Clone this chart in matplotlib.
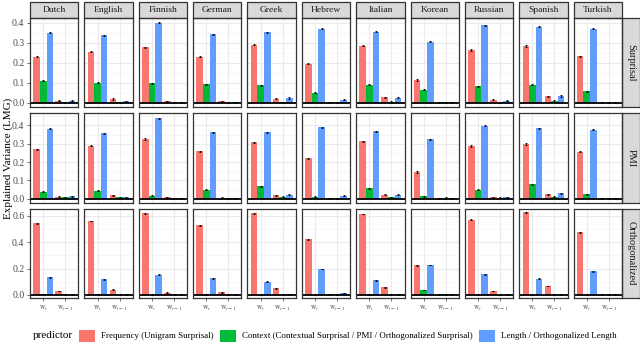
import numpy as np
import matplotlib as mpl
mpl.use('Agg')
import matplotlib.pyplot as plt
from matplotlib.patches import Patch, Rectangle

plt.rc('font', family='Liberation Serif', size=7)
plt.rc('mathtext', fontset='stix')

languages = ['Dutch', 'English', 'Finnish', 'German', 'Greek', 'Hebrew',
             'Italian', 'Korean', 'Russian', 'Spanish', 'Turkish']
rows = ['Surprisal', 'PMI', 'Orthogonalized']
positions = [r'$\mathrm{w}_t$', r'$\mathrm{w}_{t-1}$']
predictors = ['Frequency (Unigram Surprisal)',
              'Context (Contextual Surprisal / PMI / Orthogonalized Surprisal)',
              'Length / Orthogonalized Length']
colors = ['#F8766D', '#00BA38', '#619CFF']

# (w_t, w_{t-1}) per language
surp_freq = [(0.230, 0.012), (0.255, 0.020), (0.277, 0.008), (0.230, 0.008), (0.290, 0.022), (0.195, 0.003),
             (0.286, 0.028), (0.114, 0.002), (0.264, 0.017), (0.284, 0.033), (0.233, 0.002)]
surp_ctx = [(0.110, 0.002), (0.100, 0.003), (0.098, 0.002), (0.092, 0.002), (0.088, 0.003), (0.052, 0.002),
            (0.091, 0.005), (0.066, 0.004), (0.083, 0.002), (0.091, 0.010), (0.058, 0.001)]
surp_len = [(0.350, 0.012), (0.337, 0.008), (0.400, 0.002), (0.342, 0.003), (0.352, 0.025), (0.370, 0.017),
            (0.355, 0.026), (0.306, 0.002), (0.388, 0.012), (0.380, 0.035), (0.370, 0.002)]

pmi_freq = [(0.270, 0.011), (0.290, 0.018), (0.326, 0.008), (0.260, 0.006), (0.308, 0.020), (0.220, 0.002),
            (0.313, 0.022), (0.146, 0.002), (0.288, 0.007), (0.299, 0.025), (0.256, 0.002)]
pmi_ctx = [(0.038, 0.007), (0.045, 0.007), (0.016, 0.002), (0.049, 0.002), (0.067, 0.011), (0.011, 0.001),
           (0.058, 0.009), (0.014, 0.004), (0.050, 0.006), (0.079, 0.011), (0.025, 0.001)]
pmi_len = [(0.382, 0.013), (0.358, 0.009), (0.440, 0.002), (0.362, 0.003), (0.362, 0.023), (0.390, 0.016),
           (0.369, 0.023), (0.324, 0.002), (0.398, 0.007), (0.384, 0.031), (0.377, 0.002)]

orth_freq = [(0.544, 0.030), (0.560, 0.040), (0.618, 0.018), (0.529, 0.020), (0.618, 0.051), (0.423, 0.004),
             (0.613, 0.058), (0.225, 0.002), (0.570, 0.030), (0.625, 0.068), (0.476, 0.002)]
orth_ctx = [(0.007, 0.002), (0.008, 0.001), (0.002, 0.001), (0.005, 0.001), (0.002, 0.001), (0.002, 0.001),
            (0.005, 0.002), (0.038, 0.004), (0.002, 0.002), (0.002, 0.002), (0.003, 0.001)]
orth_len = [(0.134, 0.002), (0.119, 0.001), (0.154, 0.001), (0.127, 0.001), (0.101, 0.004), (0.197, 0.015),
            (0.111, 0.003), (0.228, 0.002), (0.157, 0.002), (0.124, 0.006), (0.180, 0.002)]

err = 0.003  # roughly constant small error bars

data = [[surp_freq, surp_ctx, surp_len],
        [pmi_freq, pmi_ctx, pmi_len],
        [orth_freq, orth_ctx, orth_len]]
ylims = [(-0.02, 0.425), (-0.021, 0.466), (-0.025, 0.651)]
yticks = [[0, 0.1, 0.2, 0.3, 0.4], [0, 0.1, 0.2, 0.3, 0.4], [0, 0.2, 0.4, 0.6]]

fig = plt.figure(figsize=(6.4, 3.44), dpi=100)
gs = fig.add_gridspec(3, 11, left=30/640, right=622/640, top=1-17.7/344, bottom=1-298.3/344,
                      wspace=0.123, hspace=0.072)

x = np.array([1, 2])
w = 0.3
for r in range(3):
    for c, lang in enumerate(languages):
        ax = fig.add_subplot(gs[r, c])
        ax.set_facecolor('white')
        ax.set_xlim(0.4, 2.6)
        ax.set_ylim(*ylims[r])
        ticks = yticks[r]
        step = ticks[1] - ticks[0]
        minor = [t + step / 2 for t in ticks[:-1]] + [ticks[-1] + step / 2]
        for t in ticks:
            ax.axhline(t, color='#EBEBEB', lw=0.8, zorder=0)
        for t in minor:
            ax.axhline(t, color='#F2F2F2', lw=0.4, zorder=0)
        for xx in x:
            ax.axvline(xx, color='#EBEBEB', lw=0.8, zorder=0)
        for k in range(3):
            vals = [v for v in data[r][k][c]]
            ax.bar(x + (k - 1) * w, vals, width=w, color=colors[k], zorder=2, linewidth=0)
            ax.errorbar(x + (k - 1) * w, vals, yerr=err, fmt='none', ecolor='black',
                        elinewidth=0.6, capsize=0.8, capthick=0.6, zorder=3)
        ax.axhline(0, color='black', lw=1.3, zorder=4)
        ax.set_yticks(ticks)
        ax.set_xticks(x)
        for s in ax.spines.values():
            s.set_color('#333333')
            s.set_linewidth(0.9)
            s.set_zorder(5)
        ax.tick_params(length=2.5, width=0.5, color='#333333', labelcolor='#4D4D4D', pad=1.5)
        if c == 0:
            ax.set_yticklabels(['%.1f' % t for t in ticks], fontsize=7)
        else:
            ax.tick_params(axis='y', left=False, labelleft=False)
        if r == 2:
            ax.set_xticklabels(positions, fontsize=5.5)
        else:
            ax.tick_params(axis='x', bottom=False, labelbottom=False)
        if r == 0:
            ax.add_patch(Rectangle((0, 1.0), 1, 15.7 / 89.3, transform=ax.transAxes, clip_on=False,
                                   facecolor='#D9D9D9', edgecolor='#333333', lw=0.9))
            ax.text(0.5, 1.0 + 7.9 / 89.3, lang, transform=ax.transAxes, ha='center', va='center',
                    fontsize=6.8, color='#1A1A1A')
        if c == 10:
            ax.add_patch(Rectangle((1.0, 0), 17.5 / 48.4, 1, transform=ax.transAxes, clip_on=False,
                                   facecolor='#D9D9D9', edgecolor='#333333', lw=0.9))
            ax.text(1.0 + 8.8 / 48.4, 0.5, rows[r], transform=ax.transAxes, ha='center', va='center',
                    rotation=270, fontsize=7.5, color='#1A1A1A')

fig.text(8/640, 1 - 158/344, 'Explained Variance (LMG)', rotation=90, ha='center', va='center', fontsize=8)

handles = [Patch(facecolor=col, edgecolor='none') for col in colors]
fig.legend(handles, predictors, loc='center left', bbox_to_anchor=(79/640, 1 - 335.5/344), ncol=3,
           frameon=False, fontsize=6.4, handlelength=1.8, handleheight=1.7, handletextpad=0.62,
           columnspacing=0.8, borderaxespad=0, borderpad=0)
fig.text(33/640, 1 - 335.5/344, 'predictor', ha='left', va='center', fontsize=8)

plt.savefig('out.png', dpi=100)
